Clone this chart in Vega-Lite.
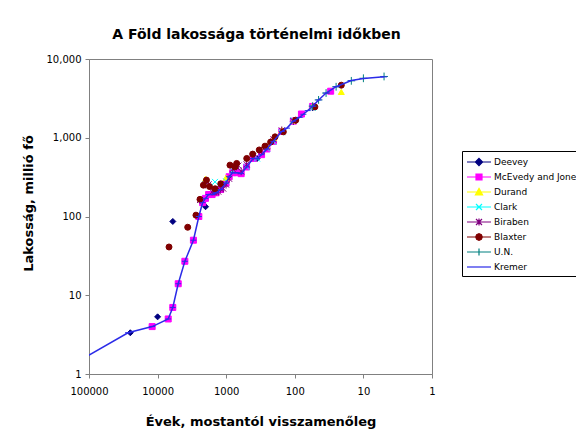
{
  "$schema": "https://vega.github.io/schema/vega-lite/v6.json",
  "autosize": {"type": "none"},
  "width": 343,
  "height": 315,
  "padding": {"left": 89, "top": 59, "right": 144, "bottom": 60},
  "background": "white",
  "title": {
    "text": "A Föld lakossága történelmi időkben",
    "font": "DejaVu Sans",
    "fontSize": 14,
    "fontWeight": "bold",
    "color": "#000000",
    "anchor": "middle",
    "offset": 12,
    "dx": -4
  },
  "config": {
    "view": {"stroke": "#808080", "strokeWidth": 1},
    "font": "DejaVu Sans",
    "axis": {
      "grid": false,
      "domainColor": "#808080",
      "tickColor": "#808080",
      "labelColor": "#000000",
      "titleColor": "#000000",
      "labelFont": "DejaVu Sans",
      "titleFont": "DejaVu Sans",
      "labelFontSize": 10,
      "tickSize": 4,
      "labelFlush": false,
      "labelOverlap": false
    },
    "legend": {
      "orient": "none",
      "legendX": 373,
      "legendY": 92,
      "labelFont": "DejaVu Sans",
      "labelFontSize": 9,
      "labelColor": "#000000",
      "symbolSize": 144,
      "symbolOffset": 6,
      "labelOffset": 8,
      "rowPadding": 2,
      "padding": 4,
      "strokeColor": "#000000",
      "fillColor": "#FFFFFF",
      "symbolStrokeWidth": 1.2
    }
  },
  "data": {
    "values": [
      {"s": "Deevey", "yr": 25000, "pop": 3.34},
      {"s": "Deevey", "yr": 10000, "pop": 5.32},
      {"s": "Deevey", "yr": 6000, "pop": 86.5},
      {"s": "Deevey", "yr": 2000, "pop": 133},
      {"s": "Deevey", "yr": 355, "pop": 545},
      {"s": "Deevey", "yr": 255, "pop": 728},
      {"s": "Deevey", "yr": 205, "pop": 906},
      {"s": "Deevey", "yr": 105, "pop": 1610},
      {"s": "Deevey", "yr": 55, "pop": 2400},

      {"s": "McEvedy and Jones", "yr": 12005, "pop": 4},
      {"s": "McEvedy and Jones", "yr": 7005, "pop": 5},
      {"s": "McEvedy and Jones", "yr": 6005, "pop": 7},
      {"s": "McEvedy and Jones", "yr": 5005, "pop": 14},
      {"s": "McEvedy and Jones", "yr": 4005, "pop": 27},
      {"s": "McEvedy and Jones", "yr": 3005, "pop": 50},
      {"s": "McEvedy and Jones", "yr": 2505, "pop": 100},
      {"s": "McEvedy and Jones", "yr": 2205, "pop": 150},
      {"s": "McEvedy and Jones", "yr": 2005, "pop": 170},
      {"s": "McEvedy and Jones", "yr": 1805, "pop": 190},
      {"s": "McEvedy and Jones", "yr": 1605, "pop": 190},
      {"s": "McEvedy and Jones", "yr": 1405, "pop": 200},
      {"s": "McEvedy and Jones", "yr": 1205, "pop": 220},
      {"s": "McEvedy and Jones", "yr": 1005, "pop": 265},
      {"s": "McEvedy and Jones", "yr": 905, "pop": 320},
      {"s": "McEvedy and Jones", "yr": 805, "pop": 360},
      {"s": "McEvedy and Jones", "yr": 705, "pop": 360},
      {"s": "McEvedy and Jones", "yr": 605, "pop": 350},
      {"s": "McEvedy and Jones", "yr": 505, "pop": 425},
      {"s": "McEvedy and Jones", "yr": 405, "pop": 545},
      {"s": "McEvedy and Jones", "yr": 305, "pop": 610},
      {"s": "McEvedy and Jones", "yr": 255, "pop": 720},
      {"s": "McEvedy and Jones", "yr": 205, "pop": 900},
      {"s": "McEvedy and Jones", "yr": 155, "pop": 1200},
      {"s": "McEvedy and Jones", "yr": 105, "pop": 1625},
      {"s": "McEvedy and Jones", "yr": 80, "pop": 2000},
      {"s": "McEvedy and Jones", "yr": 55, "pop": 2500},
      {"s": "McEvedy and Jones", "yr": 30, "pop": 3900},

      {"s": "Durand", "yr": 2005, "pop": 300},
      {"s": "Durand", "yr": 1005, "pop": 310},
      {"s": "Durand", "yr": 255, "pop": 791},
      {"s": "Durand", "yr": 205, "pop": 978},
      {"s": "Durand", "yr": 155, "pop": 1262},
      {"s": "Durand", "yr": 105, "pop": 1650},
      {"s": "Durand", "yr": 55, "pop": 2519},
      {"s": "Durand", "yr": 21, "pop": 3820},

      {"s": "Clark", "yr": 2005, "pop": 256},
      {"s": "Clark", "yr": 1455, "pop": 275},
      {"s": "Clark", "yr": 1005, "pop": 280},
      {"s": "Clark", "yr": 805, "pop": 384},
      {"s": "Clark", "yr": 505, "pop": 427},
      {"s": "Clark", "yr": 355, "pop": 545},
      {"s": "Clark", "yr": 255, "pop": 731},
      {"s": "Clark", "yr": 205, "pop": 890},
      {"s": "Clark", "yr": 155, "pop": 1171},
      {"s": "Clark", "yr": 105, "pop": 1668},
      {"s": "Clark", "yr": 55, "pop": 2400},

      {"s": "Biraben", "yr": 2405, "pop": 162},
      {"s": "Biraben", "yr": 2005, "pop": 255},
      {"s": "Biraben", "yr": 1805, "pop": 256},
      {"s": "Biraben", "yr": 1605, "pop": 206},
      {"s": "Biraben", "yr": 1505, "pop": 206},
      {"s": "Biraben", "yr": 1405, "pop": 206},
      {"s": "Biraben", "yr": 1305, "pop": 207},
      {"s": "Biraben", "yr": 1205, "pop": 224},
      {"s": "Biraben", "yr": 1105, "pop": 226},
      {"s": "Biraben", "yr": 1005, "pop": 254},
      {"s": "Biraben", "yr": 905, "pop": 301},
      {"s": "Biraben", "yr": 805, "pop": 400},
      {"s": "Biraben", "yr": 705, "pop": 432},
      {"s": "Biraben", "yr": 665, "pop": 443},
      {"s": "Biraben", "yr": 605, "pop": 374},
      {"s": "Biraben", "yr": 505, "pop": 460},
      {"s": "Biraben", "yr": 405, "pop": 579},
      {"s": "Biraben", "yr": 305, "pop": 679},
      {"s": "Biraben", "yr": 255, "pop": 770},
      {"s": "Biraben", "yr": 205, "pop": 954},
      {"s": "Biraben", "yr": 155, "pop": 1241},
      {"s": "Biraben", "yr": 105, "pop": 1633},

      {"s": "Blaxter", "yr": 6820, "pop": 41},
      {"s": "Blaxter", "yr": 3640, "pop": 73},
      {"s": "Blaxter", "yr": 2760, "pop": 104},
      {"s": "Blaxter", "yr": 2410, "pop": 165},
      {"s": "Blaxter", "yr": 2150, "pop": 250},
      {"s": "Blaxter", "yr": 1940, "pop": 290},
      {"s": "Blaxter", "yr": 1750, "pop": 240},
      {"s": "Blaxter", "yr": 1450, "pop": 225},
      {"s": "Blaxter", "yr": 1200, "pop": 260},
      {"s": "Blaxter", "yr": 881, "pop": 449},
      {"s": "Blaxter", "yr": 745, "pop": 427},
      {"s": "Blaxter", "yr": 703, "pop": 472},
      {"s": "Blaxter", "yr": 502, "pop": 546},
      {"s": "Blaxter", "yr": 411, "pop": 620},
      {"s": "Blaxter", "yr": 330, "pop": 700},
      {"s": "Blaxter", "yr": 272, "pop": 782},
      {"s": "Blaxter", "yr": 225, "pop": 880},
      {"s": "Blaxter", "yr": 194, "pop": 1026},
      {"s": "Blaxter", "yr": 147, "pop": 1188},
      {"s": "Blaxter", "yr": 97, "pop": 1672},
      {"s": "Blaxter", "yr": 51, "pop": 2466},
      {"s": "Blaxter", "yr": 21, "pop": 4650},

      {"s": "U.N.", "yr": 55, "pop": 2519},
      {"s": "U.N.", "yr": 45, "pop": 3024},
      {"s": "U.N.", "yr": 35, "pop": 3697},
      {"s": "U.N.", "yr": 25, "pop": 4442},
      {"s": "U.N.", "yr": 15, "pop": 5280},
      {"s": "U.N.", "yr": 10, "pop": 5692},
      {"s": "U.N.", "yr": 5, "pop": 6000},

      {"s": "Kremer", "yr": 302005, "pop": 1},
      {"s": "Kremer", "yr": 27005, "pop": 3.34},
      {"s": "Kremer", "yr": 12005, "pop": 4},
      {"s": "Kremer", "yr": 7005, "pop": 5},
      {"s": "Kremer", "yr": 6005, "pop": 7},
      {"s": "Kremer", "yr": 5005, "pop": 14},
      {"s": "Kremer", "yr": 4005, "pop": 27},
      {"s": "Kremer", "yr": 3005, "pop": 50},
      {"s": "Kremer", "yr": 2505, "pop": 100},
      {"s": "Kremer", "yr": 2205, "pop": 150},
      {"s": "Kremer", "yr": 2005, "pop": 170},
      {"s": "Kremer", "yr": 1805, "pop": 190},
      {"s": "Kremer", "yr": 1605, "pop": 190},
      {"s": "Kremer", "yr": 1405, "pop": 200},
      {"s": "Kremer", "yr": 1205, "pop": 220},
      {"s": "Kremer", "yr": 1005, "pop": 265},
      {"s": "Kremer", "yr": 905, "pop": 320},
      {"s": "Kremer", "yr": 805, "pop": 360},
      {"s": "Kremer", "yr": 705, "pop": 360},
      {"s": "Kremer", "yr": 605, "pop": 350},
      {"s": "Kremer", "yr": 505, "pop": 425},
      {"s": "Kremer", "yr": 405, "pop": 545},
      {"s": "Kremer", "yr": 355, "pop": 545},
      {"s": "Kremer", "yr": 305, "pop": 610},
      {"s": "Kremer", "yr": 255, "pop": 720},
      {"s": "Kremer", "yr": 205, "pop": 900},
      {"s": "Kremer", "yr": 155, "pop": 1200},
      {"s": "Kremer", "yr": 130, "pop": 1325},
      {"s": "Kremer", "yr": 105, "pop": 1625},
      {"s": "Kremer", "yr": 85, "pop": 1813},
      {"s": "Kremer", "yr": 75, "pop": 1987},
      {"s": "Kremer", "yr": 65, "pop": 2213},
      {"s": "Kremer", "yr": 55, "pop": 2516},
      {"s": "Kremer", "yr": 45, "pop": 3019},
      {"s": "Kremer", "yr": 35, "pop": 3693},
      {"s": "Kremer", "yr": 25, "pop": 4450},
      {"s": "Kremer", "yr": 15, "pop": 5333},
      {"s": "Kremer", "yr": 10, "pop": 5650},
      {"s": "Kremer", "yr": 5, "pop": 5930}
    ]
  },
  "resolve": {"scale": {"fill": "independent", "stroke": "independent", "shape": "independent"}},
  "layer": [
    {
      "mark": {"type": "point", "filled": true, "size": 36, "strokeWidth": 1, "opacity": 1, "clip": true},
      "encoding": {
        "x": {
          "field": "yr",
          "type": "quantitative",
          "scale": {"type": "log", "domain": [1, 100000], "reverse": true, "nice": false},
          "axis": {
            "values": [1, 10, 100, 1000, 10000, 100000],
            "format": "d",
            "title": "Évek, mostantól visszamenőleg",
            "titleFontSize": 13,
            "titleFontWeight": "bold",
            "titleY": 47,
            "titleBaseline": "middle",
            "labelPadding": 8
          }
        },
        "y": {
          "field": "pop",
          "type": "quantitative",
          "scale": {"type": "log", "domain": [1, 10000], "nice": false},
          "axis": {
            "values": [1, 10, 100, 1000, 10000],
            "format": ",",
            "title": "Lakosság, millió fő",
            "titleFontSize": 13,
            "titleFontWeight": "bold",
            "titleX": -61,
            "titleY": 144,
            "titleAngle": 270,
            "titleAlign": "center",
            "titleBaseline": "middle",
            "labelPadding": 4
          }
        },
        "fill": {
          "field": "s",
          "type": "nominal",
          "scale": {
            "domain": ["Deevey", "McEvedy and Jones", "Durand", "Clark", "Biraben", "Blaxter", "U.N.", "Kremer"],
            "range": ["#000080", "#FF00FF", "#FFFF00", "#00FFFF", "#800080", "#800000", "#008080", "#2B2BE8"]
          },
          "legend": null
        },
        "stroke": {
          "field": "s",
          "type": "nominal",
          "scale": {
            "domain": ["Deevey", "McEvedy and Jones", "Durand", "Clark", "Biraben", "Blaxter", "U.N.", "Kremer"],
            "range": ["#000080", "#FF00FF", "#FFFF00", "#00FFFF", "#800080", "#800000", "#008080", "#2B2BE8"]
          },
          "legend": null
        },
        "shape": {
          "field": "s",
          "type": "nominal",
          "scale": {
            "domain": ["Deevey", "McEvedy and Jones", "Durand", "Clark", "Biraben", "Blaxter", "U.N.", "Kremer"],
            "range": ["diamond", "square", "triangle-up", "M-1,-1L1,1M-1,1L1,-1", "M-1,-1L1,1M-1,1L1,-1M0,-1.3V1.3", "circle", "M-1.3,0H1.3M0,-1.3V1.3", "M-1,0H1"]
          },
          "legend": null
        }
      }
    },
    {
      "transform": [{"filter": "datum.s === 'Kremer'"}],
      "mark": {"type": "line", "color": "#2B2BE8", "strokeWidth": 1.5, "clip": true},
      "encoding": {
        "x": {"field": "yr", "type": "quantitative"},
        "y": {"field": "pop", "type": "quantitative"}
      }
    },
    {
      "transform": [{"filter": "datum.pop < 0"}],
      "mark": {"type": "point", "filled": true, "strokeWidth": 1.2, "opacity": 1},
      "encoding": {
        "x": {"field": "yr", "type": "quantitative"},
        "y": {"field": "pop", "type": "quantitative"},
        "fill": {
          "field": "s",
          "type": "nominal",
          "scale": {
            "domain": ["Deevey", "McEvedy and Jones", "Durand", "Clark", "Biraben", "Blaxter", "U.N.", "Kremer"],
            "range": ["#000080", "#FF00FF", "#FFFF00", "#00FFFF", "#800080", "#800000", "#008080", "#2B2BE8"]
          },
          "legend": {"title": null}
        },
        "stroke": {
          "field": "s",
          "type": "nominal",
          "scale": {
            "domain": ["Deevey", "McEvedy and Jones", "Durand", "Clark", "Biraben", "Blaxter", "U.N.", "Kremer"],
            "range": ["#000080", "#FF00FF", "#FFFF00", "#00FFFF", "#800080", "#800000", "#008080", "#2B2BE8"]
          },
          "legend": {"title": null}
        },
        "shape": {
          "field": "s",
          "type": "nominal",
          "scale": {
            "domain": ["Deevey", "McEvedy and Jones", "Durand", "Clark", "Biraben", "Blaxter", "U.N.", "Kremer"],
            "range": [
              "M-2,0H2M0,-0.6L0.6,0L0,0.6L-0.6,0Z",
              "M-2,0H2M-0.5,-0.5H0.5V0.5H-0.5Z",
              "M-2,0H2M0,-0.6L0.6,0.5H-0.6Z",
              "M-2,0H2M-0.5,-0.5L0.5,0.5M-0.5,0.5L0.5,-0.5",
              "M-2,0H2M-0.5,-0.5L0.5,0.5M-0.5,0.5L0.5,-0.5M0,-0.6V0.6",
              "M-2,0H2M0.55,0L0.39,0.39L0,0.55L-0.39,0.39L-0.55,0L-0.39,-0.39L0,-0.55L0.39,-0.39Z",
              "M-2,0H2M0,-0.6V0.6",
              "M-2,0H2"
            ]
          },
          "legend": {"title": null}
        }
      }
    }
  ]
}
